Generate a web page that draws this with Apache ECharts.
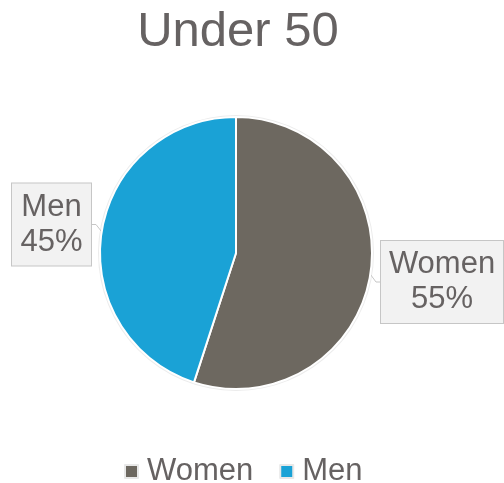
<!DOCTYPE html>
<html><head><meta charset="utf-8">
<script src="https://cdn.jsdelivr.net/npm/echarts@6/dist/echarts.min.js"></script>
<style>html,body{margin:0;padding:0;background:#fff}#c{width:504px;height:483px}</style>
</head><body><div id="c"></div>
<script>
var titleText = 'Under 50';
var categories = ['Women', 'Men'];
var values = [55, 45];
var colors = ['#6d6860', '#1aa2d6'];

var chart = echarts.init(document.getElementById('c'));
var labelPos = [
  {x: 442, y: 282, w: 122},
  {x: 51.5, y: 224.5, w: 79}
];
chart.setOption({
  animation: false,
  title: {
    text: titleText, left: 233, top: 3, textAlign: 'center',
    textStyle: {fontFamily: 'Liberation Sans', fontSize: 49, fontWeight: 'normal', color: '#666262'}
  },
  legend: {
    data: categories, top: 451, left: 119, icon: 'rect', itemWidth: 13, itemHeight: 13, itemGap: 26,
    itemStyle: {borderColor: '#e8e8e8', borderWidth: 2},
    textStyle: {fontFamily: 'Liberation Sans', fontSize: 31, color: '#666262', padding: [0, 0, 0, 4]}
  },
  color: colors,
  series: [{
    type: 'pie', silent: true, radius: 138, center: [236, 253], label: {show: false},
    itemStyle: {color: '#ececec'}, data: [{value: 1, name: '_bg'}], z: 1, legendHoverLink: false
  }, {
    type: 'pie', radius: 136, center: [236, 253], startAngle: 90, clockwise: true, z: 2,
    itemStyle: {borderColor: '#ffffff', borderWidth: 2},
    data: categories.map(function (c, i) {
      return {name: c, value: values[i], label: {width: labelPos[i].w}};
    }),
    label: {
      show: true, position: 'outside', formatter: '{b}\n{d}%', align: 'center', overflow: 'none',
      padding: [6, 0, 6, 0],
      fontFamily: 'Liberation Sans', fontSize: 31, lineHeight: 35, color: '#666262',
      backgroundColor: '#f2f2f2', borderColor: '#c6c6c6', borderWidth: 1
    },
    labelLine: {show: true, length: 4, length2: 4, lineStyle: {color: '#c6c6c6', width: 1}},
    labelLayout: function (p) {
      var lp = labelPos[p.dataIndex];
      return {x: lp.x, y: lp.y, align: 'center', verticalAlign: 'middle'};
    }
  }]
});
</script></body></html>
